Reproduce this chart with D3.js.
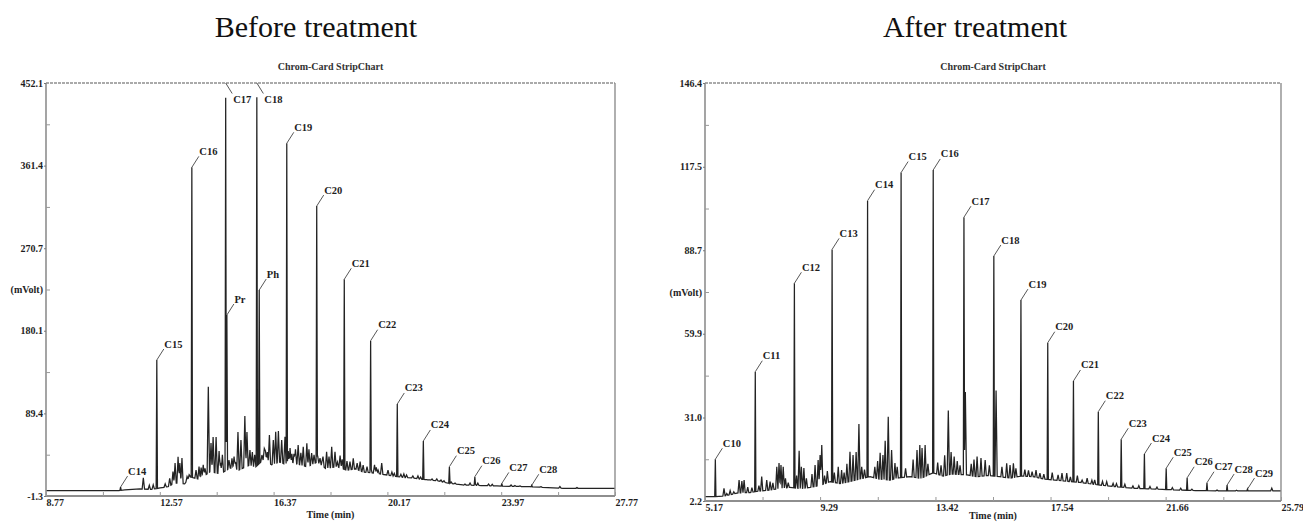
<!DOCTYPE html>
<html><head><meta charset="utf-8">
<script src="https://cdn.jsdelivr.net/npm/d3@7"></script>
<style>
body{margin:0;background:#fff}
svg{display:block}
text{font-family:"Liberation Serif","DejaVu Serif","Times New Roman",serif;fill:#1e1e1e}
</style>
</head><body>
<svg id="chart" width="1303" height="522"></svg>
<script>
// ---------------- DATA ----------------
const panelTitles = ["Before treatment", "After treatment"];
const chartHeader = "Chrom-Card StripChart";
const xAxisTitle = "Time (min)";
const yAxisTitle = "(mVolt)";

// Before treatment
const beforeXTicks = [8.77, 12.57, 16.37, 20.17, 23.97, 27.77];
const beforeXTickLabels = ["8.77", "12.57", "16.37", "20.17", "23.97", "27.77"];
const beforeXMinor = [10.67, 14.47, 18.27, 22.07, 25.87];
const beforeYTicks = [-1.3, 89.4, 180.1, 270.7, 361.4, 452.1];
const beforeYTickLabels = ["-1.3", "89.4", "180.1", "270.7", "361.4", "452.1"];
const beforeYMinor = [44.05, 134.75, 225.4, 316.05, 406.75];

const beforePeakNames = ["C14","C15","C16","C17","Pr","C18","Ph","C19","C20","C21","C22","C23","C24","C25","C26","C27","C28"];
const beforePeakTimes = [11.26,12.47,13.64,14.77,14.81,15.81,15.89,16.81,17.81,18.73,19.61,20.50,21.37,22.24,23.09,23.99,24.99];
const beforePeakHeights = [8.5,148,359.5,436,197.4,436.5,224.8,385.9,317,236.6,169.2,99.7,59.1,30.9,19.9,12.5,10.5];

const beforeMinorTimes = [12.02,12.75,13.01,13.08,13.18,13.24,13.31,13.78,13.95,14.19,14.28,14.35,14.45,14.60,14.88,15.05,15.18,15.28,15.41,15.48,15.58,15.98,16.10,16.23,16.36,16.44,16.53,16.64,16.75,16.92,17.05,17.19,17.36,17.48,17.64,17.92,18.02,18.14,18.31,18.42,18.60,18.92,19.03,19.16,19.26,19.36,19.80,19.98,20.19,20.81,21.02,21.48,21.82,22.43,22.76,24.60,25.93,
  12.22,12.35,12.90,13.48,13.55,13.88,14.02,14.08,14.55,14.66,14.98,15.10,15.66,15.74,16.06,16.16,16.86,16.98,17.10,17.28,17.55,17.72,17.84,18.00,18.22,18.50,18.59,18.66,18.82,19.49,19.62,19.74,19.86,20.32,20.40,20.62,20.72,21.19,21.28,21.66,21.96,22.06,22.30,22.93,23.10,23.19,23.55,23.67,24.30,24.43,25.30,26.50];
const beforeMinorHeights = [18.8,12.0,25.4,34.9,41.8,34.9,40.4,27.2,30.0,118.7,56.9,63.5,63.5,35.0,38.2,42.0,69.0,60.2,86.5,69.0,49.2,43.7,48.0,65.7,60.2,69.3,70.1,60.2,63.8,51.4,45.0,54.7,52.8,56.6,45.9,40.4,42.0,47.3,52.8,47.3,38.0,36.4,40.1,34.9,36.4,32.7,30.0,34.9,27.2,21.8,20.7,16.3,17.4,13.0,11.9,9.7,9.1,
  10.5,11.0,18.0,20.0,22.0,31.0,33.0,29.0,48.0,44.0,40.0,36.0,47.0,44.0,51.0,47.0,48.0,45.0,50.0,46.0,50.0,44.0,43.0,39.0,42.0,36.0,43.0,39.0,37.0,31.0,29.0,33.0,27.0,25.0,23.5,22.5,23.0,20.7,19.5,17.5,16.3,15.5,14.0,13.0,12.0,12.8,11.8,11.5,10.8,10.2,9.0,8.0];

const beforeBaseTimes = [8.77,11.20,11.40,11.91,12.30,12.58,12.85,13.08,13.40,13.58,13.90,14.25,14.60,14.91,15.20,15.58,15.75,16.02,16.30,16.58,16.90,17.15,17.50,17.82,18.10,18.49,18.80,19.10,19.36,19.70,19.92,20.20,20.49,20.75,21.02,21.30,21.59,21.90,22.16,22.69,23.30,23.83,24.40,24.93,26.03,27.77];
const beforeBaseValues = [4.5,4.6,5.5,6.4,6.0,7.5,9.0,13.0,12.0,19.6,17.0,25.4,23.0,29.4,27.0,32.7,30.0,38.2,33.0,36.0,31.0,34.0,30.5,36.0,29.0,31.0,27.0,28.5,25.0,24.0,23.0,21.5,20.0,19.0,18.5,17.0,16.3,15.0,13.0,10.8,10.2,9.7,9.3,8.9,7.2,7.0];

// After treatment
const afterXTicks = [5.17, 9.29, 13.42, 17.54, 21.66, 25.79];
const afterXTickLabels = ["5.17", "9.29", "13.42", "17.54", "21.66", "25.79"];
const afterXMinor = [7.23, 11.355, 15.48, 19.6, 23.725];
const afterYTicks = [2.2, 31.0, 59.9, 88.7, 117.5, 146.4];
const afterYTickLabels = ["2.2", "31.0", "59.9", "88.7", "117.5", "146.4"];
const afterYMinor = [16.6, 45.45, 74.3, 103.1, 131.95];

const afterPeakNames = ["C10","C11","C12","C13","C14","C15","C16","C17","C18","C19","C20","C21","C22","C23","C24","C25","C26","C27","C28","C29"];
const afterPeakTimes = [5.54,6.97,8.37,9.72,10.99,12.19,13.34,14.44,15.51,16.48,17.44,18.36,19.25,20.07,20.90,21.68,22.43,23.14,23.86,24.59];
const afterPeakHeights = [16.6,46.8,77.3,89.0,105.8,115.5,116.4,100.1,86.7,71.5,56.8,43.6,33.0,23.5,18.4,13.5,10.2,8.5,7.7,6.3];

const afterMinorTimes = [5.85,6.07,6.39,6.49,6.57,7.20,7.38,7.50,7.74,7.82,7.89,7.97,8.54,8.71,9.11,9.22,9.29,9.35,9.94,10.06,10.36,10.47,10.58,10.68,11.44,11.54,11.73,11.85,11.97,12.76,12.86,12.94,13.05,13.88,13.98,14.09,14.49,14.91,15.05,15.20,15.59,15.97,16.09,16.21,16.88,17.02,17.16,17.81,17.95,18.12,18.67,18.85,19.02,19.55,19.78,20.49,25.46,
  5.95,6.20,6.70,6.85,7.10,7.60,8.05,8.15,8.45,8.62,8.80,9.00,9.45,9.55,9.80,10.15,10.25,10.78,10.88,11.25,11.35,11.62,12.05,12.35,12.62,13.15,13.50,13.62,13.75,14.20,14.30,14.70,14.80,15.35,15.80,16.30,16.62,16.75,17.30,17.60,18.25,18.50,19.12,19.40,19.90,20.20,20.70,21.10,21.35,21.90,22.20,22.60,23.50,24.20];
const afterMinorHeights = [6.6,5.8,9.4,9.1,9.4,10.6,9.4,8.9,14.0,15.3,14.6,14.0,19.5,13.6,14.6,16.3,18.1,21.5,14.0,12.9,19.2,18.1,19.1,28.8,18.8,18.1,31.3,19.8,15.3,19.8,21.5,20.5,21.5,33.4,19.1,17.5,39.8,17.5,17.0,16.3,40.3,15.2,14.6,15.2,12.3,12.9,11.8,11.2,11.8,11.8,9.4,10.1,9.4,8.9,8.3,7.4,6.6,
  4.8,5.4,7.0,6.8,7.5,8.5,10.0,8.5,11.0,14.0,10.0,11.5,11.0,12.5,12.0,12.0,15.0,14.0,13.0,14.0,16.0,23.0,14.0,13.5,16.5,15.0,15.5,14.5,18.0,16.0,14.5,15.0,16.5,14.5,14.0,13.5,13.0,12.8,11.5,12.0,10.5,11.0,9.5,9.0,8.2,8.0,7.5,7.2,7.0,6.8,6.6,6.3,6.0,5.9];

const afterBaseTimes = [5.17,5.53,5.80,6.00,6.35,6.78,7.10,7.50,7.90,8.21,8.60,8.93,9.30,9.65,10.00,10.36,10.70,11.08,11.40,11.79,12.10,12.51,12.90,13.33,13.70,14.00,14.55,14.90,15.30,15.73,16.10,16.50,16.91,17.30,17.70,18.13,18.60,19.31,19.80,20.49,21.00,21.55,22.73,23.91,25.79];
const afterBaseValues = [3.7,3.7,3.9,4.2,5.0,5.1,5.6,6.0,6.6,6.9,6.5,6.9,7.6,8.9,8.2,8.9,9.8,10.6,9.8,9.4,10.2,10.6,10.0,11.9,10.8,11.5,11.2,10.6,11.0,10.6,10.1,10.8,10.6,9.8,9.4,9.0,8.6,7.7,7.2,6.6,6.4,6.2,5.8,5.65,5.65];

// ---------------- DRAWING ----------------
const SERIF = "'Liberation Serif','DejaVu Serif','Times New Roman',serif";
const svg = d3.select("#chart");
svg.append("rect").attr("width", 1303).attr("height", 522).attr("fill", "#fff");

const panels = [
  { title: panelTitles[0], titleX: 316, box: {x0: 46, x1: 615, y0: 83, y1: 496},
    xT: beforeXTicks, xL: beforeXTickLabels, xM: beforeXMinor,
    yT: beforeYTicks, yL: beforeYTickLabels, yM: beforeYMinor,
    pN: beforePeakNames, pT: beforePeakTimes, pH: beforePeakHeights,
    mT: beforeMinorTimes, mH: beforeMinorHeights,
    bT: beforeBaseTimes, bV: beforeBaseValues },
  { title: panelTitles[1], titleX: 975, box: {x0: 705, x1: 1281, y0: 83, y1: 501},
    xT: afterXTicks, xL: afterXTickLabels, xM: afterXMinor,
    yT: afterYTicks, yL: afterYTickLabels, yM: afterYMinor,
    pN: afterPeakNames, pT: afterPeakTimes, pH: afterPeakHeights,
    mT: afterMinorTimes, mH: afterMinorHeights,
    bT: afterBaseTimes, bV: afterBaseValues }
];

function txt(g, x, y, s, size, bold, anchor) {
  return g.append("text").attr("x", x).attr("y", y).attr("text-anchor", anchor || "start")
    .style("font-family", SERIF).style("font-size", size + "px")
    .style("font-weight", bold ? "bold" : "normal").text(s);
}

function drawPanel(p) {
  const b = p.box;
  const x = d3.scaleLinear().domain([p.xT[0], p.xT[p.xT.length - 1]]).range([b.x0, b.x1]);
  const y = d3.scaleLinear().domain([p.yT[0], p.yT[p.yT.length - 1]]).range([b.y1, b.y0]);
  const g = svg.append("g");

  txt(g, p.titleX, 37, p.title, 30, false, "middle").style("fill", "#111");
  txt(g, (b.x0 + b.x1) / 2, 69.5, chartHeader, 10, true, "middle").style("fill", "#333");

  // trace: baseline + peaks (narrow spikes)
  const base = t => {
    const i = d3.bisectRight(p.bT, t);
    if (i <= 0) return p.bV[0];
    if (i >= p.bT.length) return p.bV[p.bV.length - 1];
    const t0 = p.bT[i - 1], t1 = p.bT[i];
    return p.bV[i - 1] + (p.bV[i] - p.bV[i - 1]) * (t - t0) / (t1 - t0);
  };
  const peaks = [];
  p.pT.forEach((t, i) => peaks.push({t, v: p.pH[i], w: 0.022}));
  p.mT.forEach((t, i) => peaks.push({t, v: p.mH[i], w: 0.04}));
  const keys = new Set(p.bT);
  peaks.forEach(pk => { keys.add(pk.t - pk.w); keys.add(pk.t); keys.add(pk.t + pk.w); });
  const ts = Array.from(keys).filter(t => t >= p.xT[0] && t <= p.xT[p.xT.length - 1]).sort((a, c) => a - c);
  const pts = ts.map(t => {
    let v = base(t);
    peaks.forEach(pk => {
      const d = Math.abs(t - pk.t);
      if (d < pk.w) {
        const bv = base(pk.t);
        v = Math.max(v, base(t) + (pk.v - bv) * (1 - d / pk.w));
      }
    });
    return [t, v];
  });
  const line = d3.line().x(d => x(d[0])).y(d => y(d[1]));
  g.append("path").datum(pts).attr("d", line).attr("fill", "none")
    .attr("stroke", "#232323").attr("stroke-width", 1.25).attr("stroke-linejoin", "miter");

  // frame
  const frameColor = "#8e8e8e";
  g.append("line").attr("x1", b.x0).attr("x2", b.x1).attr("y1", b.y0).attr("y2", b.y0)
    .attr("stroke", frameColor).attr("stroke-width", 1.3).attr("stroke-dasharray", "3,1");
  g.append("line").attr("x1", b.x1).attr("x2", b.x1).attr("y1", b.y0).attr("y2", b.y1)
    .attr("stroke", frameColor).attr("stroke-width", 1.4);
  g.append("line").attr("x1", b.x0).attr("x2", b.x0).attr("y1", b.y0).attr("y2", b.y1)
    .attr("stroke", frameColor).attr("stroke-width", 1.6);
  g.append("line").attr("x1", b.x0).attr("x2", b.x1).attr("y1", b.y1).attr("y2", b.y1)
    .attr("stroke", frameColor).attr("stroke-width", 1.8);

  // y axis (major)
  const yAx = g.append("g").attr("transform", `translate(${b.x0},0)`)
    .call(d3.axisLeft(y).tickValues(p.yT).tickFormat((d, i) => p.yL[i]).tickSize(2).tickPadding(1));
  yAx.select(".domain").remove();
  yAx.selectAll("line").attr("stroke", "#777");
  yAx.selectAll("text").style("font-family", SERIF).style("font-size", "10px")
    .style("font-weight", "bold").attr("fill", "#222");
  const yMi = g.append("g").attr("transform", `translate(${b.x0},0)`)
    .call(d3.axisRight(y).tickValues(p.yM).tickSize(4).tickFormat(""));
  yMi.select(".domain").remove();
  yMi.selectAll("line").attr("stroke", "#999");

  // x axis (major, inward ticks)
  const xAx = g.append("g").attr("transform", `translate(0,${b.y1})`)
    .call(d3.axisBottom(x).tickValues(p.xT).tickFormat((d, i) => p.xL[i]).tickSize(-4).tickPadding(3));
  xAx.select(".domain").remove();
  xAx.selectAll("line").attr("stroke", "#999");
  xAx.selectAll("text").attr("text-anchor", "start").style("font-family", SERIF)
    .style("font-size", "10px").style("font-weight", "bold").attr("fill", "#222");
  const xMi = g.append("g").attr("transform", `translate(0,${b.y1})`)
    .call(d3.axisBottom(x).tickValues(p.xM).tickSize(-4).tickFormat(""));
  xMi.select(".domain").remove();
  xMi.selectAll("line").attr("stroke", "#999");

  // axis titles
  txt(g, (b.x0 + b.x1) / 2, Math.min(b.y1 + 22, 519), xAxisTitle, 10, true, "middle");
  txt(g, b.x0 - 3, (y(p.yT[2]) + y(p.yT[3])) / 2, yAxisTitle, 10, true, "end").attr("dy", "0.35em");

  // peak labels with leaders
  p.pN.forEach((name, i) => {
    const px = x(p.pT[i]), py = y(p.pH[i]);
    let lx1, ly1, lx2, ly2, tx, ty;
    if (py - 24 < b.y0) {
      lx1 = px; ly1 = b.y0; lx2 = px + 6.5; ly2 = b.y0 + 10.5; tx = px + 7.5; ty = b.y0 + 19.5;
    } else {
      lx1 = px; ly1 = py; lx2 = px + 7; ly2 = py - 11; tx = px + 7.5; ty = py - 12.5;
    }
    g.append("line").attr("x1", lx1).attr("y1", ly1).attr("x2", lx2).attr("y2", ly2)
      .attr("stroke", "#444").attr("stroke-width", 0.9);
    txt(g, tx, ty, name, 10.5, true, "start");
  });
}
panels.forEach(drawPanel);
</script>
</body></html>
